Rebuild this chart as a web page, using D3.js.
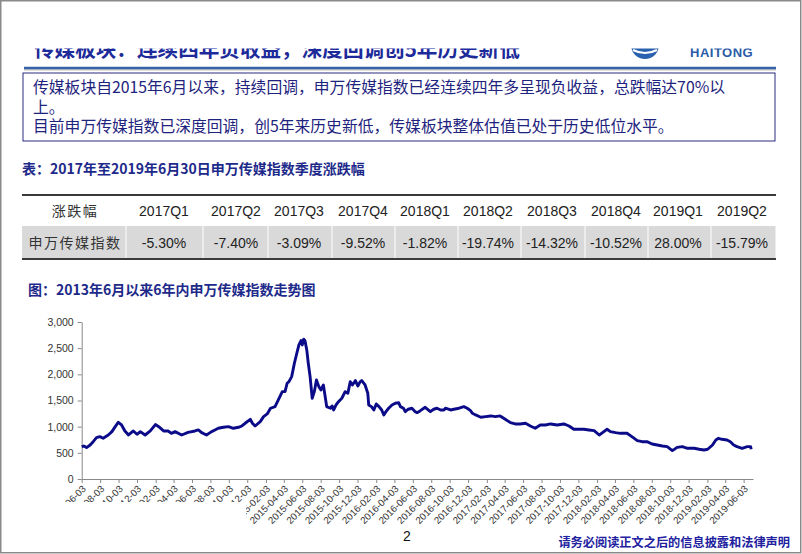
<!DOCTYPE html>
<html><head><meta charset="utf-8">
<script src="https://cdn.jsdelivr.net/npm/d3@7"></script>
<style>
html,body{margin:0;padding:0;background:#fff;}
svg{display:block;}
</style></head>
<body>
<svg id="c" width="802" height="554"></svg>
<script>
// ---------- data ----------
const slideTitle = "传媒板块：连续四年负收益，深度回调创5年历史新低";
const boxLines = [
  "传媒板块自2015年6月以来，持续回调，申万传媒指数已经连续四年多呈现负收益，总跌幅达70%以",
  "上。",
  "目前申万传媒指数已深度回调，创5年来历史新低，传媒板块整体估值已处于历史低位水平。"
];
const tableTitle = "表：2017年至2019年6月30日申万传媒指数季度涨跌幅";
const tableHeader = "涨跌幅";
const tableRowLabel = "申万传媒指数";
const quarters = ["2017Q1","2017Q2","2017Q3","2017Q4","2018Q1","2018Q2","2018Q3","2018Q4","2019Q1","2019Q2"];
const quarterChange = ["-5.30%","-7.40%","-3.09%","-9.52%","-1.82%","-19.74%","-14.32%","-10.52%","28.00%","-15.79%"];
const chartTitle = "图：2013年6月以来6年内申万传媒指数走势图";
const footerText = "请务必阅读正文之后的信息披露和法律声明";
const pageNo = "2";

const yTicks = [0,500,1000,1500,2000,2500,3000];
const xTickLabels = ["2013-06-03","2013-08-03","2013-10-03","2013-12-03","2014-02-03","2014-04-03","2014-06-03","2014-08-03","2014-10-03","2014-12-03",
"2015-02-03","2015-04-03","2015-06-03","2015-08-03","2015-10-03","2015-12-03","2016-02-03","2016-04-03","2016-06-03","2016-08-03","2016-10-03","2016-12-03",
"2017-02-03","2017-04-03","2017-06-03","2017-08-03","2017-10-03","2017-12-03","2018-02-03","2018-04-03","2018-06-03","2018-08-03","2018-10-03","2018-12-03",
"2019-02-03","2019-04-03","2019-06-03"];

const indexDates = [
"2013-06-03","2013-06-10","2013-06-19","2013-07-01","2013-07-11","2013-07-22","2013-08-02","2013-08-13","2013-08-30","2013-09-11",
"2013-09-22","2013-10-02","2013-10-13","2013-10-24","2013-11-05","2013-11-21","2013-12-03","2013-12-14","2013-12-30","2014-01-16",
"2014-02-02","2014-02-13","2014-03-01","2014-03-16","2014-03-27","2014-04-08","2014-04-30","2014-05-21","2014-06-13","2014-06-24",
"2014-07-05","2014-07-21","2014-08-07","2014-08-18","2014-08-29","2014-09-15","2014-10-02","2014-10-18","2014-11-04","2014-11-15",
"2014-11-26","2014-12-13","2014-12-20","2014-12-29","2015-01-15","2015-01-26","2015-02-07","2015-02-18","2015-03-05","2015-03-21",
"2015-03-29","2015-04-07","2015-04-14","2015-04-20","2015-04-29","2015-05-08","2015-05-16","2015-05-23","2015-05-30","2015-06-03",
"2015-06-08","2015-06-12","2015-06-18","2015-06-23","2015-06-29","2015-07-06","2015-07-13","2015-07-20","2015-07-28","2015-08-04",
"2015-08-12","2015-08-23","2015-09-04","2015-09-10","2015-09-15","2015-09-23","2015-10-01","2015-10-12","2015-10-23","2015-11-01",
"2015-11-09","2015-11-16","2015-11-26","2015-12-04","2015-12-12","2015-12-17","2015-12-28","2016-01-06","2016-01-09","2016-01-18",
"2016-01-26","2016-02-03","2016-02-12","2016-02-21","2016-02-28","2016-03-06","2016-03-15","2016-03-26","2016-04-06","2016-04-17",
"2016-04-23","2016-05-03","2016-05-09","2016-05-19","2016-05-31","2016-06-11","2016-06-17","2016-06-28","2016-07-14","2016-07-31",
"2016-08-11","2016-08-22","2016-09-03","2016-09-14","2016-09-19","2016-10-06","2016-10-17","2016-11-03","2016-11-19","2016-11-30",
"2016-12-11","2016-12-17","2016-12-28","2017-01-14","2017-01-30","2017-02-16","2017-03-03","2017-03-19","2017-04-05","2017-04-22",
"2017-05-08","2017-05-24","2017-06-11","2017-06-27","2017-07-13","2017-07-30","2017-08-16","2017-09-02","2017-09-24","2017-10-16",
"2017-11-02","2017-11-18","2017-12-05","2017-12-21","2018-01-07","2018-01-24","2018-02-10","2018-02-21","2018-03-08","2018-03-19",
"2018-04-05","2018-04-21","2018-05-13","2018-05-29","2018-06-16","2018-07-02","2018-07-18","2018-08-04","2018-08-21","2018-09-07",
"2018-09-23","2018-10-10","2018-10-26","2018-11-12","2018-11-29","2018-12-21","2019-01-07","2019-01-23","2019-02-04","2019-02-20",
"2019-03-03","2019-03-12","2019-03-23","2019-04-09","2019-04-20","2019-05-01","2019-05-12","2019-05-29","2019-06-15","2019-06-26",
"2019-06-28"];
const indexValues = [
617,630,600,650,713,790,809,778,841,905,
1000,1084,1032,918,841,918,854,905,841,918,
1040,1000,918,918,873,905,841,892,918,937,
886,841,905,937,969,988,1000,969,988,1013,
1065,1141,1065,1013,1096,1192,1243,1352,1383,1574,
1669,1669,1830,1860,1956,2212,2403,2562,2644,2562,
2671,2644,2466,2212,1956,1543,1669,1893,1765,1702,
1797,1383,1352,1396,1319,1415,1478,1543,1669,1638,
1860,1797,1880,1778,1860,1880,1797,1638,1415,1383,
1319,1434,1383,1319,1224,1287,1352,1415,1447,1459,
1383,1352,1287,1333,1352,1287,1268,1306,1370,1287,
1333,1352,1319,1319,1352,1319,1333,1352,1383,1352,
1306,1256,1224,1180,1192,1205,1192,1205,1141,1077,
1052,1052,1065,1013,969,1032,1032,1052,1032,1052,
1013,950,950,950,937,924,841,886,950,905,
886,873,873,809,733,713,713,669,650,631,
618,542,605,618,587,587,568,555,568,650,
746,778,759,746,713,650,618,587,618,618,
568];

// ---------- drawing ----------
const svg = d3.select("#c");
const parse = d3.timeParse("%Y-%m-%d");
const CJK = "'Noto Sans CJK SC','Noto Sans',sans-serif";
const LAT = "'Liberation Sans',Arial,sans-serif";

// slide border
svg.append("rect").attr("x",0.75).attr("y",0.75).attr("width",800).attr("height",552)
  .attr("fill","#fff").attr("stroke","#8a8a8a").attr("stroke-width",1.5);

// clipped title / logo (top part hidden)
const clip = svg.append("defs").append("clipPath").attr("id","tclip");
clip.append("rect").attr("x",0).attr("y",48.5).attr("width",802).attr("height",18);
const tg = svg.append("g").attr("clip-path","url(#tclip)");
tg.append("text").attr("x",34).attr("y",57).text(slideTitle)
  .attr("font-family",CJK).attr("font-weight",700).attr("font-size",20.6).attr("fill","#1d2a9a");
tg.append("circle").attr("cx",645).attr("cy",45).attr("r",14).attr("fill","#2a62b0");
tg.append("path").attr("d","M633,50 Q645,56 657,50").attr("stroke","#fff").attr("stroke-width",2).attr("fill","none");
tg.append("text").attr("x",690).attr("y",57).text("HAITONG")
  .attr("font-family",LAT).attr("font-weight",700).attr("font-size",13).attr("fill","#2a5ca8").attr("letter-spacing",0.5);

// header blue line
svg.append("line").attr("x1",24).attr("x2",776).attr("y1",69.8).attr("y2",69.8)
  .attr("stroke","#c8c8c8").attr("stroke-width",1.5);
svg.append("line").attr("x1",24).attr("x2",776).attr("y1",68).attr("y2",68)
  .attr("stroke","#3565a8").attr("stroke-width",2.6);

// text box
svg.append("rect").attr("x",23).attr("y",73).attr("width",752).attr("height",68)
  .attr("fill","none").attr("stroke","#2a2a80").attr("stroke-width",1);
svg.selectAll("text.box").data(boxLines).enter().append("text").attr("class","box")
  .attr("x",33).attr("y",(d,i)=>93+i*19.5).text(d=>d)
  .attr("font-family",CJK).attr("font-size",15.8).attr("fill","#1e237e");

// table title
svg.append("text").attr("x",22).attr("y",174).text(tableTitle)
  .attr("font-family",CJK).attr("font-weight",700).attr("font-size",14).attr("fill","#1d2a8a");

// table
const colCenters = [164,236,299,363,425,488,552,616,678,742];
const colBounds = [22,126,203,268,332,395,458,521,585,648,711,776];
svg.selectAll("rect.cell").data(colBounds.slice(0,-1)).enter().append("rect").attr("class","cell")
  .attr("x",(d,i)=>d+(i?0.5:0)).attr("y",226).attr("width",(d,i)=>colBounds[i+1]-d-(i?0.5:0)-0.5).attr("height",32)
  .attr("fill","#d9d9d9");
svg.append("line").attr("x1",22).attr("x2",776).attr("y1",195).attr("y2",195).attr("stroke","#3a3a3a").attr("stroke-width",2);
svg.append("line").attr("x1",22).attr("x2",776).attr("y1",259).attr("y2",259).attr("stroke","#3a3a3a").attr("stroke-width",2);
svg.append("text").attr("x",75).attr("y",216).attr("text-anchor","middle").text(tableHeader)
  .attr("font-family",CJK).attr("font-size",14).attr("fill","#333").attr("letter-spacing",1.5);
svg.append("text").attr("x",75).attr("y",248).attr("text-anchor","middle").text(tableRowLabel)
  .attr("font-family",CJK).attr("font-size",14).attr("fill","#333").attr("letter-spacing",1.5);
svg.selectAll("text.q").data(quarters).enter().append("text").attr("class","q")
  .attr("x",(d,i)=>colCenters[i]).attr("y",216).attr("text-anchor","middle").text(d=>d)
  .attr("font-family",LAT).attr("font-size",14).attr("fill","#222");
svg.selectAll("text.v").data(quarterChange).enter().append("text").attr("class","v")
  .attr("x",(d,i)=>colCenters[i]).attr("y",248).attr("text-anchor","middle").text(d=>d)
  .attr("font-family",LAT).attr("font-size",14).attr("fill","#222");

// chart title
svg.append("text").attr("x",28).attr("y",295).text(chartTitle)
  .attr("font-family",CJK).attr("font-weight",700).attr("font-size",14).attr("fill","#1d2a8a");

// chart
const x = d3.scaleTime().domain([parse("2013-06-03"), parse("2019-07-04")]).range([81.7, 753]);
const y = d3.scaleLinear().domain([0,3000]).range([479, 322]);

const yAxis = svg.append("g").attr("transform","translate(81.7,0)")
  .call(d3.axisLeft(y).tickValues(yTicks).tickFormat(d3.format(",")).tickSize(4).tickSizeOuter(0));
yAxis.select(".domain").attr("stroke","#888");
yAxis.selectAll(".tick line").attr("stroke","#888");
yAxis.selectAll(".tick text").attr("font-family",LAT).attr("font-size",10.5).attr("fill","#333").attr("x",-8);

const xAxis = svg.append("g").attr("transform","translate(0,479)")
  .call(d3.axisBottom(x).tickValues(xTickLabels.map(parse)).tickFormat(d3.timeFormat("%Y-%m-%d")).tickSize(4).tickSizeOuter(0));
xAxis.select(".domain").attr("stroke","#888");
xAxis.selectAll(".tick line").attr("stroke","#888");
xAxis.selectAll(".tick text").attr("font-family",LAT).attr("font-size",9.7).attr("fill","#333")
  .attr("text-anchor","end").attr("y",0).attr("dy","0.35em")
  .attr("transform","translate(2,8) rotate(-45)");

// line
const series = indexDates.map((d,i)=>({date:parse(d), v:indexValues[i]}));
svg.append("path").datum(series)
  .attr("fill","none").attr("stroke","#0b0b8a").attr("stroke-width",2.9).attr("stroke-linejoin","round")
  .attr("d", d3.line().x(d=>x(d.date)).y(d=>y(d.v)));

// mask that hides the lower part of the early tick labels
svg.append("rect").attr("x",30).attr("y",502).attr("width",216).attr("height",48).attr("fill","#fff");

// footer
svg.append("text").attr("x",407).attr("y",541).attr("text-anchor","middle").text(pageNo)
  .attr("font-family",LAT).attr("font-size",14).attr("fill","#111");
svg.append("text").attr("x",790).attr("y",547).attr("text-anchor","end").text(footerText)
  .attr("font-family",CJK).attr("font-weight",700).attr("font-size",12.2).attr("fill","#2222a0");
</script>
</body></html>
